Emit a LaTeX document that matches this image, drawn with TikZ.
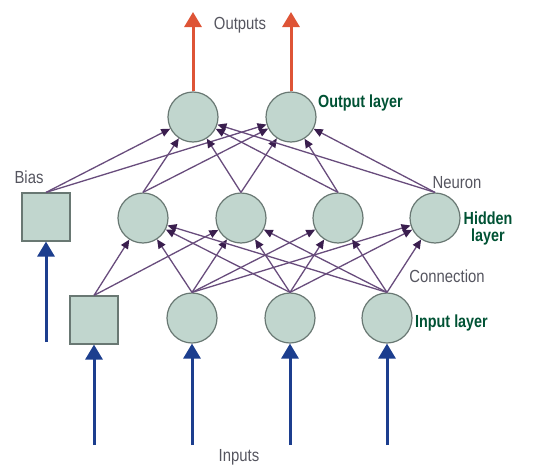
\documentclass[tikz,border=0pt]{standalone}
\usepackage{fontspec}
\usetikzlibrary{arrows.meta}
\newfontfamily\lblfont[FakeStretch=0.85]{Liberation Sans}
\newfontfamily\lblbold[FakeStretch=0.82]{Liberation Sans Bold}

\definecolor{cellfill}{RGB}{193,214,206}
\definecolor{celledge}{RGB}{105,120,115}
\definecolor{synapsecol}{RGB}{104,76,124}
\definecolor{synapsetip}{RGB}{58,30,78}
\definecolor{outred}{RGB}{222,84,54}
\definecolor{inblue}{RGB}{28,62,142}
\definecolor{lblgray}{RGB}{85,85,95}
\definecolor{lblgreen}{RGB}{0,82,52}

\tikzset{
  neuron/.style={circle, draw=celledge, fill=cellfill, line width=1.2pt, minimum size=50pt, inner sep=0pt},
  biasbox/.style={rectangle, draw=celledge, fill=cellfill, line width=1.2pt, minimum size=48pt, inner sep=0pt},
  synapse/.style={draw=synapsecol, line width=1.3pt, -{Triangle[length=9pt,width=8pt,color=synapsetip]}},
  outarrow/.style={draw=outred, line width=3pt, -{Triangle[length=15pt,width=17pt]}},
  inarrow/.style={draw=inblue, line width=3pt, -{Triangle[length=15pt,width=17pt]}},
  plainlbl/.style={text=lblgray, font=\lblfont\fontsize{17.5}{20}\selectfont, inner sep=0pt},
  layerlbl/.style={text=lblgreen, font=\lblbold\fontsize{17.5}{17}\selectfont, inner sep=0pt, align=center}
}

\begin{document}
\begin{tikzpicture}[x=1pt, y=-1pt]
        \useasboundingbox (0,0) rectangle (541,466);

        % output layer
        \node[neuron] (o1) at (193,117) {};
        \node[neuron] (o2) at (291,117) {};

        % hidden layer and its bias
        \node[biasbox] (hb) at (46,217) {};
        \node[neuron] (h1) at (143,218) {};
        \node[neuron] (h2) at (241,218) {};
        \node[neuron] (h3) at (338,218) {};
        \node[neuron] (h4) at (435,218) {};

        % input layer and its bias
        \node[biasbox] (ib) at (94,320) {};
        \node[neuron] (i1) at (192,318) {};
        \node[neuron] (i2) at (290,318) {};
        \node[neuron] (i3) at (387,318) {};

        \coordinate (top1) at (193,12);
        \coordinate (top2) at (291,12);
        \coordinate (feedb) at (46,342);
        \coordinate (feed0) at (94,445);
        \coordinate (feed1) at (192,445);
        \coordinate (feed2) at (290,445);
        \coordinate (feed3) at (387,445);

        % connections
        \foreach \s in {hb,h1,h2,h3,h4}
            \foreach \t in {o1,o2}
                \draw[synapse] (\s.north) -- (\t);
        \foreach \t in {h1,h2}
            \draw[synapse] (ib.north) -- (\t);
        \foreach \s in {i1,i2,i3}
            \foreach \t in {h1,h2,h3,h4}
                \draw[synapse] (\s.north) -- (\t);

        \draw[outarrow] (o1.north) -- (top1);
        \draw[outarrow] (o2.north) -- (top2);
        \draw[inarrow] (feedb) -- (hb.south);
        \draw[inarrow] (feed0) -- (ib.south);
        \draw[inarrow] (feed1) -- (i1.south);
        \draw[inarrow] (feed2) -- (i2.south);
        \draw[inarrow] (feed3) -- (i3.south);

        % labels
        \node[plainlbl] (outtxt) at (240,25) {Outputs};
        \node[plainlbl] (intxt) at (239,457) {Inputs};
        \node[plainlbl] (biastxt) at (29,177) {Bias};
        \node[plainlbl] (neurontxt) at (457,183) {Neuron};
        \node[plainlbl] (conntxt) at (447,276) {Connection};
        \node[layerlbl, anchor=west] (outlayer) at (318,103) {Output layer};
        \node[layerlbl] (hidlayer) at (488,228) {Hidden\\layer};
        \node[layerlbl, anchor=west] (inlayer) at (415,323) {Input layer};
    \end{tikzpicture}
\end{document}
